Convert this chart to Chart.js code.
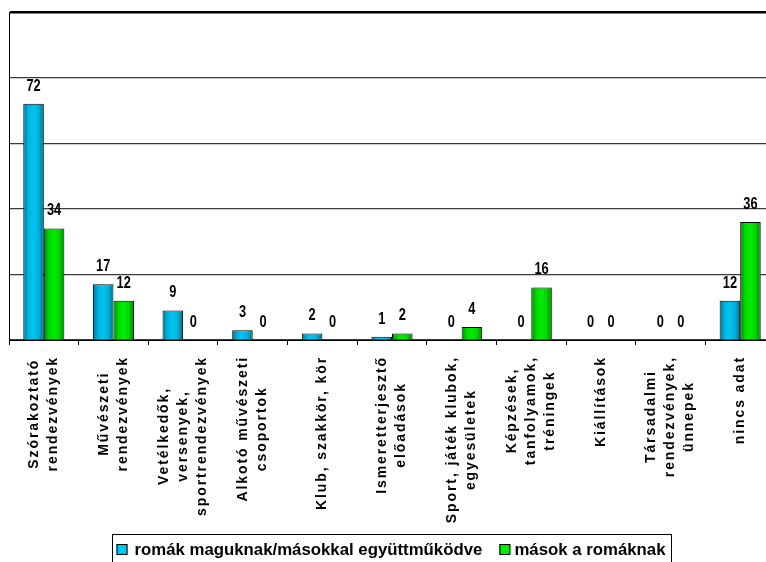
<!DOCTYPE html>
<html>
<head>
<meta charset="utf-8">
<script src="https://cdn.jsdelivr.net/npm/chart.js@4/dist/chart.umd.min.js"></script>
<style>
  html, body { margin: 0; padding: 0; background: #fff; overflow: hidden; }
  #wrap { width: 783px; height: 580px; }
</style>
</head>
<body>
<div id="wrap"><canvas id="myChart" width="783" height="580"></canvas></div>
<script>
// categories (each entry = lines of the rotated label)
var categories = [
    ['Szórakoztató', 'rendezvények'],
    ['Művészeti', 'rendezvények'],
    ['Vetélkedők,', 'versenyek,', 'sportrendezvények'],
    ['Alkotó művészeti', 'csoportok'],
    ['Klub, szakkör, kör'],
    ['Ismeretterjesztő', 'előadások'],
    ['Sport, játék klubok,', 'egyesületek'],
    ['Képzések,', 'tanfolyamok,', 'tréningek'],
    ['Kiállítások'],
    ['Társadalmi', 'rendezvények,', 'ünnepek'],
    ['nincs adat']
];
var seriesNames = ['romák maguknak/másokkal együttműködve', 'mások a romáknak'];
var romakValues = [72, 17, 9, 3, 2, 1, 0, 0, 0, 0, 12];
var masokValues = [34, 12, 0, 0, 0, 2, 4, 16, 0, 0, 36];
var yTicks = [0, 20, 40, 60, 80, 100];

var blue = '#00c4f2';
var green = '#00ec00';

// bar shading + value labels
var barExtras = {
    id: 'barExtras',
    afterDatasetsDraw: function (chart) {
        var ctx = chart.ctx;
        ctx.save();
        chart.data.datasets.forEach(function (ds, di) {
            var meta = chart.getDatasetMeta(di);
            meta.data.forEach(function (bar, i) {
                var p = bar.getProps(['x', 'y', 'base', 'width']);
                var l = p.x - p.width / 2, r = p.x + p.width / 2;
                if (ds.data[i] > 0 && p.base - p.y > 2) {
                    var g = ctx.createLinearGradient(l, 0, r, 0);
                    g.addColorStop(0, 'rgba(0,0,0,0.42)');
                    g.addColorStop(0.25, 'rgba(0,0,0,0.08)');
                    g.addColorStop(0.5, 'rgba(0,0,0,0)');
                    g.addColorStop(0.75, 'rgba(0,0,0,0.1)');
                    g.addColorStop(1, 'rgba(0,0,0,0.45)');
                    ctx.fillStyle = g;
                    ctx.fillRect(l + 1, p.y + 1, p.width - 2, p.base - p.y - 1);
                }
                // condensed bold numbers
                ctx.save();
                ctx.translate(p.x, p.y - 17.5);
                ctx.scale(0.8, 1);
                ctx.fillStyle = '#000';
                ctx.font = 'bold 16px "Liberation Sans", Arial, sans-serif';
                ctx.textAlign = 'center';
                ctx.textBaseline = 'middle';
                ctx.fillText(String(ds.data[i]), 0, 0);
                ctx.restore();
            });
        });
        ctx.restore();
    }
};

// rotated, centred x labels
var xLabels = {
    id: 'xLabels',
    afterDraw: function (chart) {
        var ctx = chart.ctx;
        var xs = chart.scales.x;
        var axisY = chart.chartArea.bottom;
        ctx.save();
        ctx.font = 'bold 14px "Liberation Sans", Arial, sans-serif';
        ctx.letterSpacing = '1.9px';
        ctx.fillStyle = '#000';
        ctx.textAlign = 'center';
        ctx.textBaseline = 'middle';
        categories.forEach(function (lines, i) {
            var cx = xs.getPixelForValue(i);
            var maxW = 0;
            lines.forEach(function (s) { maxW = Math.max(maxW, ctx.measureText(s).width); });
            var midY = axisY + 16 + maxW / 2;
            lines.forEach(function (s, j) {
                var lx = cx + (j - (lines.length - 1) / 2) * 19;
                ctx.save();
                ctx.translate(lx, midY);
                ctx.rotate(-Math.PI / 2);
                ctx.fillText(s, 0, 0);
                ctx.restore();
            });
        });
        ctx.restore();
    }
};

// boxed legend at the bottom
var boxLegend = {
    id: 'boxLegend',
    afterDraw: function (chart) {
        var ctx = chart.ctx;
        ctx.save();
        ctx.font = 'bold 16.8px "Liberation Sans", Arial, sans-serif';
        ctx.textBaseline = 'middle';
        var colors = [blue, green];
        var widths = seriesNames.map(function (s) { return ctx.measureText(s).width; });
        var total = 4 + 11 + 7 + widths[0] + 17 + 11 + 4 + widths[1] + 6;
        var left = Math.round(chart.width / 2 - total / 2) + 0.5;
        var top = 534.5;
        ctx.strokeStyle = '#000';
        ctx.lineWidth = 1;
        ctx.strokeRect(left, top, total, 40);
        var x = left + 4;
        var cy = 549.5;
        seriesNames.forEach(function (s, k) {
            ctx.fillStyle = colors[k];
            ctx.fillRect(x, cy - 5.5, 11, 11);
            ctx.strokeRect(x + 0.5, cy - 5, 10, 10);
            x += (k === 0 ? 18 : 15);
            ctx.fillStyle = '#000';
            ctx.fillText(s, x, cy + 1);
            x += widths[k] + 17;
        });
        ctx.restore();
    }
};

var ctx = document.getElementById('myChart').getContext('2d');
var myChart = new Chart(ctx, {
    type: 'bar',
    data: {
        labels: categories,
        datasets: [
            {
                label: seriesNames[0],
                data: romakValues,
                backgroundColor: blue,
                borderColor: '#000',
                borderWidth: function (c) { return c.raw > 0 ? 1 : 0; },
                categoryPercentage: 0.59,
                barPercentage: 1
            },
            {
                label: seriesNames[1],
                data: masokValues,
                backgroundColor: green,
                borderColor: '#000',
                borderWidth: function (c) { return c.raw > 0 ? 1 : 0; },
                categoryPercentage: 0.59,
                barPercentage: 1
            }
        ]
    },
    options: {
        responsive: false,
        animation: false,
        devicePixelRatio: 1,
        layout: { padding: { left: 9, top: 12, right: 8, bottom: 0 } },
        plugins: {
            legend: { display: false },
            tooltip: { enabled: false }
        },
        scales: {
            x: {
                ticks: { display: false },
                grid: {
                    offset: true,
                    drawOnChartArea: false,
                    drawTicks: true,
                    tickLength: 5,
                    color: '#000'
                },
                border: { display: true, color: '#000', width: 1 },
                afterFit: function (scale) { scale.height = 240; }
            },
            y: {
                min: yTicks[0],
                max: yTicks[yTicks.length - 1],
                ticks: { display: false, stepSize: 20 },
                grid: {
                    drawTicks: false,
                    color: function (c) { return c.tick && c.tick.value === 100 ? '#000' : '#3a3a3a'; },
                    lineWidth: function (c) { return c.tick && c.tick.value === 100 ? 2.5 : 1.2; }
                },
                border: { display: true, color: '#000', width: 1 },
                afterFit: function (scale) { scale.width = 0; }
            }
        }
    },
    plugins: [barExtras, xLabels, boxLegend]
});
</script>
</body>
</html>
